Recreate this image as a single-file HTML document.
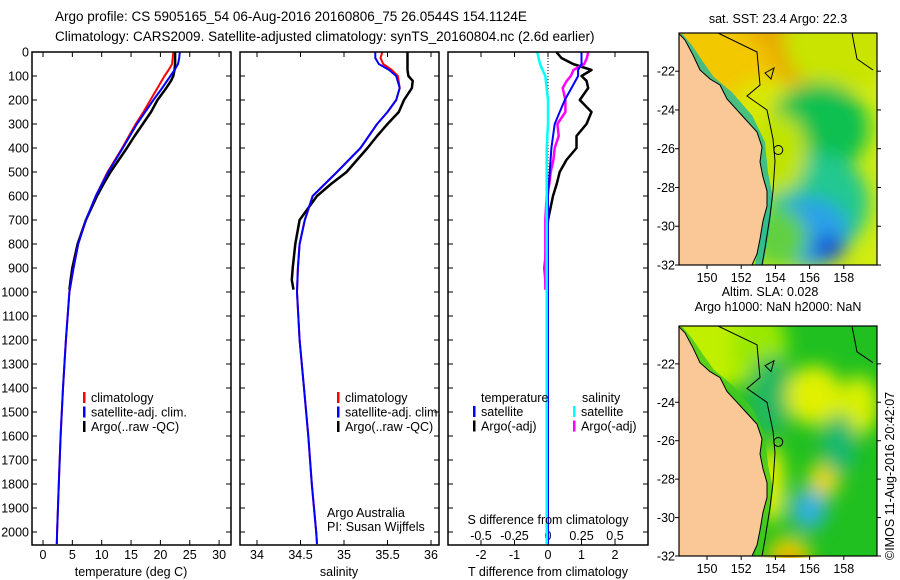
<!DOCTYPE html>
<html><head><meta charset="utf-8">
<style>
html,body{margin:0;padding:0;background:#fff;}
svg{display:block;font-family:"Liberation Sans",sans-serif;}
text{font-size:12.5px;fill:#000;}
</style></head>
<body>
<svg id="chart" width="900" height="580" viewBox="0 0 900 580" xmlns="http://www.w3.org/2000/svg">
<defs>
<filter id="blur" x="-20%" y="-20%" width="140%" height="140%"><feGaussianBlur stdDeviation="9"/></filter>
<clipPath id="clipMap"><rect x="0" y="0" width="198" height="232"/></clipPath>
</defs>
<text x="55" y="21" style="font-size:13.5px">Argo profile: CS 5905165_54 06-Aug-2016 20160806_75 26.0544S 154.1124E</text>
<text x="55" y="41" style="font-size:13.5px">Climatology: CARS2009. Satellite-adjusted climatology: synTS_20160804.nc (2.6d earlier)</text>
<g id="panels"></g>
<g id="maps"></g>
<text transform="translate(894,560) rotate(-90)" style="font-size:12.5px">©IMOS 11-Aug-2016 20:42:07</text>
</svg>
<script>
// ---------- DATA ----------
const depthTicks=[0,100,200,300,400,500,600,700,800,900,1000,1100,1200,1300,1400,1500,1600,1700,1800,1900,2000];
const tempTicks=[0,5,10,15,20,25,30];
const salTicks=[34,34.5,35,35.5,36];
const tdiffTicks=[-2,-1,0,1,2];
const sdiffTicks=[-0.5,-0.25,0,0.25,0.5];

const climDepths=[0,25,50,75,100,150,200,250,300,400,500,600,700,800,900,1000,1200,1400,1600,1800,2000,2050];
const tempClim=[22.2,22.1,22.0,21.4,20.7,19.5,18.3,17.1,15.8,13.5,11.0,9.0,7.3,6.0,5.2,4.5,3.9,3.4,3.0,2.7,2.4,2.35];
const tempSat=[23.3,23.2,23.0,22.4,21.7,20.3,18.8,17.4,16.0,13.6,11.1,9.0,7.3,6.0,5.2,4.5,3.9,3.4,3.0,2.7,2.4,2.35];
const salClim=[35.44,35.42,35.45,35.55,35.62,35.64,35.6,35.5,35.38,35.19,34.92,34.64,34.55,34.49,34.47,34.46,34.49,34.54,34.59,34.63,34.68,34.69];
const salSat=[35.36,35.36,35.4,35.52,35.6,35.64,35.6,35.5,35.38,35.19,34.92,34.64,34.55,34.49,34.47,34.46,34.49,34.54,34.59,34.63,34.68,34.69];

const argoDepths=[0,25,50,75,100,120,150,200,250,300,350,400,450,500,550,600,700,800,900,950,990];
const tempArgo=[22.5,22.5,22.5,22.4,22.2,21.8,21.0,19.5,18.4,17.0,15.6,14.3,12.9,11.5,10.3,9.2,7.3,5.9,5.0,4.7,4.5];
const salArgo=[35.73,35.73,35.73,35.73,35.74,35.79,35.78,35.69,35.63,35.5,35.38,35.27,35.15,35.03,34.85,34.69,34.49,34.44,34.41,34.40,34.42];

const tdiffSat=[1.0,1.0,1.0,0.9,0.9,0.7,0.5,0.35,0.2,0.1,0.05,0.0,0.0,0.0,0.0,0.0,0.0,0.0,0.0,0.0,0.0,0.0];
const sdiffSat=[-0.08,-0.07,-0.06,-0.04,-0.02,-0.01,0.0,0.0,0.0,-0.01,-0.01,-0.01,-0.01,-0.01,-0.01,-0.01,-0.01,-0.01,-0.01,-0.01,-0.01,-0.01];
const tdiffArgo=[0.25,0.4,0.75,1.3,1.0,1.15,1.2,0.95,1.3,1.15,0.85,0.85,0.55,0.35,0.26,0.15,0.0,-0.05,-0.1,-0.08,-0.07];
const sdiffArgo=[0.3,0.29,0.27,0.19,0.17,0.14,0.11,0.13,0.13,0.07,0.08,0.05,0.04,0.02,0.01,-0.01,-0.02,-0.02,-0.02,-0.02,-0.02];

// ---------- HELPERS ----------
const NS='http://www.w3.org/2000/svg';
function mk(tag,attrs,parent){const e=document.createElementNS(NS,tag);for(const k in attrs)e.setAttribute(k,attrs[k]);parent.appendChild(e);return e;}
const TOP=52,BOT=545;
function yD(d){return TOP+d*0.24;}
const panelsG=document.getElementById('panels');

function makePanel(name){
  const g=mk('g',{},panelsG);
  
  
  return g;
}
function frame(g,x0,x1){
  const r=mk('rect',{x:x0,y:TOP,width:x1-x0,height:BOT-TOP,fill:'none',stroke:'#000','stroke-width':1.5},g);
  
  
}
function xTicks(g,vals,fx,labelY){
  vals.forEach(v=>{
    const x=fx(v);
    mk('line',{x1:x,x2:x,y1:BOT,y2:BOT-5,stroke:'#000'},g);
    mk('line',{x1:x,x2:x,y1:TOP,y2:TOP+5,stroke:'#000'},g);
    if(labelY){const t=mk('text',{x:x,y:labelY,'text-anchor':'middle'},g);t.textContent=String(v);
      
      }
  });
}
function yTicks(g,x0,x1,labels){
  depthTicks.forEach(d=>{
    const y=yD(d);
    mk('line',{x1:x0,x2:x0+5,y1:y,y2:y,stroke:'#000'},g);
    mk('line',{x1:x1,x2:x1-5,y1:y,y2:y,stroke:'#000'},g);
    if(labels){const t=mk('text',{x:x0-3,y:y+4.5,'text-anchor':'end'},g);t.textContent=d;
      
      }
  });
}
function line(g,xs,ds,fx,color,w,name){
  const pts=xs.map((v,i)=>fx(v).toFixed(1)+','+yD(ds[i]).toFixed(1)).join(' ');
  const p=mk('polyline',{points:pts,fill:'none',stroke:color,'stroke-width':w,'stroke-linejoin':'round'},g);
  
  
}
function legend(g,x,y,items){
  items.forEach((it,i)=>{
    const yy=y+i*14.5;
    mk('rect',{x:x,y:yy-10,width:2.5,height:11,fill:it[0]},g);
    const t=mk('text',{x:x+8,y:yy},g);t.textContent=it[1];
    
    
  });
}
function label(g,x,y,txt,name,anchor){
  const t=mk('text',{x:x,y:y,'text-anchor':anchor||'middle'},g);t.textContent=txt;
  
  
}

// ---------- PANEL 1: temperature ----------
const fT=v=>43+v*5.87;
const g1=makePanel('temperature-panel');
yTicks(g1,32,231,true);
xTicks(g1,tempTicks,fT,559);
line(g1,tempArgo,argoDepths,fT,'#000',2.5,'temp-argo-line');
line(g1,tempClim,climDepths,fT,'#f00',2,'temp-clim-line');
line(g1,tempSat,climDepths,fT,'#00f',2,'temp-sat-line');
frame(g1,32,231);
legend(g1,83,402,[['#f00','climatology'],['#00f','satellite-adj. clim.'],['#000','Argo(..raw -QC)']]);
label(g1,131,576,'temperature (deg C)','x-axis-title-temperature');

// ---------- PANEL 2: salinity ----------
const fS=v=>257+(v-34)*87;
const g2=makePanel('salinity-panel');
yTicks(g2,240,439,false);
xTicks(g2,salTicks,fS,559);
line(g2,salArgo,argoDepths,fS,'#000',2.5,'sal-argo-line');
line(g2,salClim,climDepths,fS,'#f00',2,'sal-clim-line');
line(g2,salSat,climDepths,fS,'#00f',2,'sal-sat-line');
frame(g2,240,439);
legend(g2,337,402,[['#f00','climatology'],['#00f','satellite-adj. clim.'],['#000','Argo(..raw -QC)']]);
label(g2,327,517,'Argo Australia','credit-argo-australia','start');
label(g2,327,531,'PI: Susan Wijffels','credit-pi','start');
label(g2,339,576,'salinity','x-axis-title-salinity');

// ---------- PANEL 3: differences ----------
const fdT=v=>548+v*33.5;
const fdS=v=>548+v*134;
const g3=makePanel('difference-panel');
yTicks(g3,448,648,false);
xTicks(g3,tdiffTicks,fdT,559);
sdiffTicks.forEach(v=>{label(g3,fdS(v),540,String(v),'s-diff-tick-label');});
mk('line',{x1:548,x2:548,y1:TOP,y2:yD(700),stroke:'#000','stroke-dasharray':'1,2'},g3);
line(g3,tdiffArgo,argoDepths,fdT,'#000',2.5,'tdiff-argo-line');
line(g3,sdiffArgo,argoDepths,fdS,'#f0f',2.5,'sdiff-argo-line');
line(g3,tdiffSat,climDepths,fdT,'#00f',2,'tdiff-sat-line');
line(g3,sdiffSat,climDepths,fdS,'#0ff',2.5,'sdiff-sat-line');
frame(g3,448,648);
label(g3,481,402,'temperature','legend-title-temperature','start');
label(g3,582,402,'salinity','legend-title-salinity','start');
legend(g3,473,416,[['#00f','satellite'],['#000','Argo(-adj)']]);
legend(g3,573,416,[['#0ff','satellite'],['#f0f','Argo(-adj)']]);
label(g3,548,524,'S difference from climatology','s-diff-axis-title');
label(g3,548,576,'T difference from climatology','t-diff-axis-title');

// ---------- MAPS ----------
const mapsG=document.getElementById('maps');
const coast='0,0 0.3,1 6,7 14,22 21,37 31,46 41,52 48,66 58,77 68,88 78,99 83,114 81,129 84,144 88,158 88,173 84,188 81,206 78,221 73,232 0,232';
const iso1='39,0 78,19 81,52 68,63 88,77 94,106 96,128 94,158 91,183 86,215 83,232';
const iso2='173,0 178,26 194,37';
const blobs1=[['#e8a800',60,5,110,70],['#f2c800',25,45,70,60],['#c8e400',160,5,55,55],['#d8e800',90,85,40,40],['#10c050',140,95,50,45],['#20c890',140,170,50,50],['#2aa0e8',130,200,40,35],['#1848d0',150,215,16,12],['#60d040',100,205,28,30],['#c0e400',100,120,28,40]];
const blobs2=[['#c0f000',30,5,65,60],['#9ae800',80,20,28,40],['#20b860',92,70,22,40],['#e0f000',135,70,28,30],['#d8f000',180,80,20,30],['#e8e000',145,155,16,18],['#f0c800',145,158,8,8],['#30b0e0',130,185,18,20],['#e0d000',110,232,22,20],['#e07000',110,240,10,10],['#e8f000',92,160,14,40],['#18b870',160,120,18,30]];

function drawMap(name,x,y,h,base,blobs,stripColor,titleLines){
  const g=mk('g',{transform:'translate('+x+','+y+')'},mapsG);
  
  
  const inner=mk('g',{'clip-path':'url(#clipMap)'},g);
  const sc=h/232;
  const sg=mk('g',{transform:'scale(1,'+sc+')'},inner);
  mk('rect',{x:0,y:0,width:198,height:232,fill:base},sg);
  const bg=mk('g',{filter:'url(#blur)'},sg);
  blobs.forEach(b=>mk('ellipse',{cx:b[1],cy:b[2],rx:b[3],ry:b[4],fill:b[0]},bg));
  mk('polyline',{points:'0,3 10,15 20,30 32,47 50,62 70,85 82,110 85,140 90,165 86,200 80,232',fill:'none',stroke:stripColor,'stroke-width':8,opacity:0.8},sg);
  mk('polygon',{points:coast,fill:'#f9c896',stroke:'#000','stroke-width':1},sg);
  mk('polyline',{points:iso1,fill:'none',stroke:'#000','stroke-width':1},sg);
  mk('polyline',{points:iso2,fill:'none',stroke:'#000','stroke-width':1},sg);
  mk('polygon',{points:'86,40 95,35 92,46',fill:'none',stroke:'#000'},sg);
  const c=mk('circle',{cx:99.3,cy:117,r:4.5,fill:'none',stroke:'#000'},sg);
  
  
  mk('rect',{x:0,y:0,width:198,height:h,fill:'none',stroke:'#000','stroke-width':1.2},g);
  const pxDeg=h/11.97;
  [-22,-24,-26,-28,-30,-32].forEach(lat=>{
    const yy=h-(lat+32)*pxDeg;
    mk('line',{x1:-4,x2:0,y1:yy,y2:yy,stroke:'#000'},g);
    mk('line',{x1:198,x2:202,y1:yy,y2:yy,stroke:'#000'},g);
    const t=mk('text',{x:-4,y:yy+4.5,'text-anchor':'end'},g);t.textContent=lat;
    
    
  });
  [150,152,154,156,158].forEach(lon=>{
    const xx=28+(lon-150)*17.1;
    mk('line',{x1:xx,x2:xx,y1:h,y2:h+4,stroke:'#000'},g);
    const t=mk('text',{x:xx,y:h+17,'text-anchor':'middle'},g);t.textContent=lon;
    
    
  });
  titleLines.forEach(tl=>{
    const t=mk('text',{x:99+tl[1],y:tl[2],'text-anchor':'middle'},g);t.textContent=tl[0];
    
    
  });
}
drawMap('sst-map',679,33,232,'#d0ec10',blobs1,'#20b8a0',[['sat. SST: 23.4  Argo: 22.3',0,-10]]);
drawMap('sla-map',679,326,230,'#20c020',blobs2,'#40c820',[['Altim. SLA: 0.028',-8,-30],['Argo h1000: NaN h2000: NaN',0,-15]]);
</script>
</body></html>
